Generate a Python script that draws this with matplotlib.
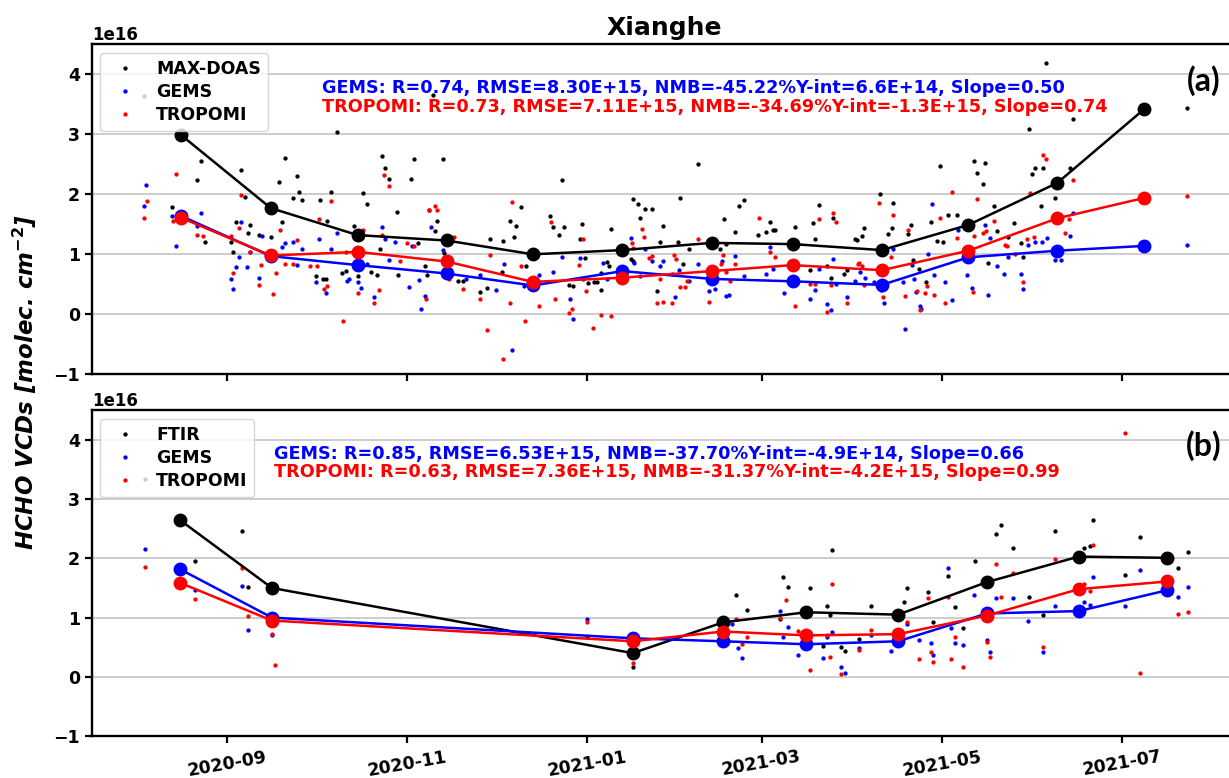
import numpy as np
import pandas as pd
import matplotlib
matplotlib.use("Agg")
import matplotlib.pyplot as plt
import matplotlib.dates as mdates

# ---------------- DATA (values in 1e16 molec/cm2; x as days from 2020-09-01) ----------------
maxdoas_days = [-27.9, -18.5, -10.2, -8.8, -7.4, 1.3, 2.2, 4.9, 6.2, 3.3, 7.3, 7.8, 10.9, 14.9, 17.8, 18.6, 19.8,
                22.5, 23.8, 24.6, 25.6, 30.3, 31.6, 32.7, 33.6, 34.0, 35.3, 37.2, 39.0, 40.3, 43.0, 44.3, 46.1,
                47.4, 48.8, 51.0, 51.9, 52.7, 53.7, 55.0, 57.7, 58.1, 62.4, 63.5, 64.8, 67.1, 67.7, 68.4, 69.7,
                70.4, 71.1, 73.1, 73.4, 78.2, 79.8, 85.8, 88.1, 89.1, 93.1, 93.4, 95.8, 97.1, 97.8, 99.6, 101.2,
                105.2, 109.5, 110.3, 112.3, 113.3, 114.2, 115.9, 117.3, 119.6, 120.2, 121.2, 122.4, 124.3, 125.2,
                126.6, 126.7, 128.6, 129.5, 129.9,
                136.8, 137.4, 137.6, 139.1, 139.9, 141.6, 143.8, 145.7, 146.6, 147.6, 152.6, 153.4, 154.3, 156.6,
                159.4, 167.0, 168.3, 169.0, 172.0, 173.2, 174.9, 179.9, 182.5, 183.9, 184.8, 185.6, 192.3, 197.4,
                198.3, 199.1, 200.6, 203.1, 204.4, 205.1, 208.9, 209.8, 212.6,
                213.2, 214.9, 215.8, 221.1, 223.9, 225.1, 225.6, 230.7, 231.6, 232.2, 234.4, 236.6, 238.4, 240.3,
                241.4, 242.3, 244.2, 247.1, 252.9, 253.8, 255.9, 256.7, 257.8, 259.8, 260.6, 264.5, 266.6, 268.8,
                269.6, 271.5, 272.4, 273.6, 275.5, 276.4, 277.3, 280.3, 285.4, 286.3, 325.1]
maxdoas_vals = [3.64, 1.78, 2.23, 2.55, 1.21, 1.20, 1.03, 2.40, 1.96, 1.54, 1.36, 1.49, 1.32, 1.28, 2.21, 1.54, 2.60,
                1.93, 2.31, 2.04, 1.91, 0.64, 1.91, 0.59, 0.59, 1.56, 2.04, 3.03, 0.69, 0.72, 1.47, 0.64, 2.02,
                1.84, 0.70, 0.66, 1.08, 2.64, 2.44, 2.26, 1.70, 0.66, 2.25, 2.58, 1.18, 0.80, 0.65, 1.73, 3.65,
                1.38, 1.55, 2.59, 1.02, 0.55, 0.55, 0.37, 0.44, 1.26, 0.71, 1.22, 1.56, 1.28, 1.47, 1.78, 0.80,
                0.55, 1.63, 1.45, 1.32, 2.23, 1.45, 0.48, 0.47, 1.26, 1.50, 0.93, 0.52, 0.54, 0.54,
                0.40, 0.69, 0.87, 0.81, 1.42,
                0.92, 1.92, 0.88, 1.83, 1.60, 1.75, 1.75, 0.39, 1.21, 1.47, 1.21, 1.94, 0.84, 1.09,
                2.51, 1.09, 1.58, 1.17, 1.37, 1.80, 1.90, 1.32, 1.37, 1.54, 1.40, 1.41, 1.45, 0.74,
                1.52, 1.25, 1.82, 0.81, 0.61, 1.60, 0.67, 0.74, 1.25,
                1.23, 1.30, 1.44, 2.00, 1.34, 1.43, 1.86, 1.34, 1.48, 0.90, 0.76, 0.53, 1.54, 1.22,
                2.47, 1.20, 1.65, 1.65, 2.55, 2.36, 2.17, 2.52, 0.86, 1.80, 1.38, 1.29, 1.52, 1.19,
                0.95, 3.08, 2.33, 2.43, 1.80, 2.43, 4.19, 1.94, 2.44, 3.25, 3.43]

gems_a_days = [-27.2, -27.9, -17.2, -18.5, -10.2, -8.8, 1.3, 2.2, 3.3, 4.2, 4.9, 6.9, 7.8, 10.9, 11.8, 18.6, 19.8,
               22.5, 23.8, 25.6, 30.3, 31.3, 33.6, 35.3, 37.2, 40.7, 41.3, 44.3, 45.3, 47.4, 49.7, 52.7, 53.7,
               55.0, 56.8, 61.7, 62.7, 65.1, 65.8, 67.1, 69.1, 73.1, 74.7, 80.9, 85.8, 91.2, 93.9, 96.6, 100.5,
               105.8, 110.5, 113.3, 116.2, 117.3, 119.6, 120.6, 127.3, 128.6,
               136.8, 137.9, 139.7, 141.6, 143.8, 146.6, 147.6, 150.6, 151.7, 152.9, 156.6, 159.6, 163.3, 165.3,
               167.5, 169.0, 170.1, 172.0, 174.9, 182.5, 183.9, 184.8, 188.6, 197.4, 199.1, 200.6, 203.1, 204.4,
               205.1, 206.2, 209.8, 212.6,
               214.4, 216.0, 218.9, 221.3, 222.5, 225.6, 228.8, 229.6, 231.8, 232.6, 233.3, 234.7, 234.9, 237.3,
               238.6, 239.4, 243.1, 245.4, 247.6, 250.5, 252.1, 256.7, 257.8, 258.3, 260.6, 262.9, 264.5, 268.7,
               269.6, 271.3, 273.6, 275.8, 277.5, 280.3, 282.4, 285.4, 286.3, 325.1]
gems_a_vals = [2.16, 1.80, 1.14, 1.64, 1.47, 1.68, 0.58, 0.42, 0.78, 0.96, 1.54, 0.79, 1.04, 0.61, 1.30, 1.12, 1.18,
               1.20, 0.82, 1.09, 0.54, 1.25, 0.35, 1.08, 1.36, 0.56, 0.59, 0.53, 0.44, 0.83, 0.28, 1.46, 1.26,
               0.91, 1.20, 0.46, 1.14, 0.57, 0.08, 0.31, 1.45, 1.07, 0.78, 0.59, 0.65, 0.40, 0.83, -0.60, 0.47,
               0.65, 0.70, 0.96, 0.26, -0.08, 0.94, 0.58, 0.86, 0.59,
               1.27, 0.85, 0.64, 1.09, 0.88, 0.80, 0.88, 0.67, 0.28, 0.73, 0.56, 0.84, 0.39, 0.42,
               0.88, 0.31, 0.32, 0.97, 0.64, 0.67, 1.12, 0.75, 0.35, 0.25, 0.40, 0.75, 0.17, 0.07,
               0.92, 0.50, 0.28, 0.56,
               0.70, 0.60, 0.53, 0.40, 0.19, 1.08, 0.53, -0.25, 0.82, 0.58, 0.37, 0.14, 0.08, 1.01,
               1.83, 0.66, 0.53, 0.24, 1.40, 0.65, 0.43, 1.49, 0.32, 1.27, 0.80, 0.67, 0.95, 0.67,
               0.42, 1.15, 1.21, 1.21, 1.27, 0.90, 0.91, 1.31, 1.69, 1.16]

tropomi_a_days = [-27.9, -27.0, -17.2, -18.3, -10.2, -8.2, 1.3, 2.2, 4.9, 4.2, 7.8, 10.9, 11.6, 15.6, 16.6, 17.9,
                  19.8, 22.5, 23.8, 28.3, 30.6, 31.3, 33.0, 34.0, 35.3, 39.4, 40.3, 44.3, 46.1, 49.7, 51.4, 52.7,
                  53.3, 55.0, 58.7, 61.1, 63.5, 67.5, 68.4, 70.4, 71.1, 75.1, 76.8, 80.1, 85.8, 88.1, 89.1, 93.4,
                  95.8, 96.7, 99.6, 100.9, 102.5, 105.8, 109.6, 111.2, 115.9, 117.0, 119.2, 120.6, 121.6, 124.1,
                  126.5, 129.9,
                  137.1, 137.4, 140.4, 141.3, 143.0, 143.8, 146.6, 147.6, 145.7, 150.6, 151.4, 152.1, 153.4, 155.1,
                  155.7, 159.6, 163.3, 167.2, 168.1, 169.0, 170.3, 172.0, 180.3, 183.9, 185.6, 192.3, 197.4, 199.1,
                  200.6, 204.4, 203.1, 205.1, 206.2, 209.8, 213.8,
                  214.1, 214.9, 215.5, 220.9, 222.0, 224.7, 225.6, 229.6, 230.4, 233.5, 234.7, 236.3, 237.1, 239.4,
                  241.4, 243.1, 245.4, 247.1, 252.5, 252.9, 253.8, 255.9, 257.0, 259.8, 263.4, 264.0, 266.8, 269.6,
                  270.8, 271.7, 273.2, 276.4, 277.3, 283.7, 285.2, 286.3, 325.1]
tropomi_a_vals = [1.61, 1.88, 2.34, 1.56, 1.32, 1.30, 1.30, 0.68, 1.98, 1.43, 1.03, 0.48, 0.82, 0.33, 0.69, 1.41,
                  0.84, 0.83, 1.24, 0.80, 0.80, 1.59, 0.42, 0.47, 1.88, -0.12, 1.04, 0.36, 1.41, 0.19, 0.40, 1.32,
                  2.32, 2.13, 0.89, 1.18, 1.14, 0.25, 1.73, 1.81, 1.73, 0.58, 1.29, 0.42, 0.26, -0.26, 0.98, -0.75,
                  0.19, 1.87, 0.80, -0.12, 0.55, 0.13, 1.54, 0.26, 0.02, 0.08, 0.82, 1.25, 0.39, -0.23,
                  -0.01, -0.03,
                  1.19, 1.10, 1.42, 1.28, 0.93, 0.97, 0.59, 0.21, 0.18, 0.18, 0.99, 0.92, 0.46, 0.46,
                  0.56, 1.25, 0.21, 0.84, 0.98, 0.70, 0.56, 0.84, 1.60, 1.03, 0.95, 0.13, 0.50, 0.50,
                  1.58, 0.49, 0.04, 1.69, 1.54, 0.18, 0.84,
                  0.86, 0.81, 0.49, 1.86, 0.28, 0.95, 1.65, 0.30, 1.40, 0.38, 0.07, 0.36, 0.47, 0.32,
                  1.60, 0.19, 2.03, 1.27, 0.37, 1.31, 1.92, 1.36, 1.38, 1.55, 1.16, 1.14, 1.01, 0.53,
                  1.25, 2.02, 1.29, 2.66, 2.58, 1.36, 1.58, 2.23, 1.97]

mean_a_days = [-15.5, 14.9, 44.3, 74.4, 103.6, 133.9, 164.1, 191.5, 221.7, 251.0, 281.1, 310.5]
maxdoas_mean = [2.99, 1.77, 1.32, 1.23, 1.00, 1.07, 1.19, 1.17, 1.07, 1.49, 2.19, 3.42]
gems_a_mean = [1.64, 0.97, 0.82, 0.68, 0.48, 0.72, 0.59, 0.55, 0.49, 0.95, 1.06, 1.14]
tropomi_a_mean = [1.61, 0.98, 1.04, 0.88, 0.54, 0.61, 0.72, 0.82, 0.735, 1.06, 1.60, 1.94]

ftir_days = [-27.5, -10.8, 5.1, 7.3, 121.9, 137.4, 172.2, 176.1, 187.4, 188.1, 190.1, 197.4, 201.8, 203.2, 204.1,
             204.9, 207.9, 209.2, 214.1, 218.1, 229.2, 230.2, 237.2, 239.0, 244.2, 246.3, 249.3, 253.3, 260.4,
             262.0, 266.2, 271.6, 276.3, 280.4, 290.0, 292.0, 293.0, 304.1, 309.1, 321.8, 325.4]
ftir_vals = [3.34, 1.96, 2.46, 1.51, 0.67, 0.16, 1.39, 1.12, 0.98, 1.68, 1.51, 1.50, 0.52, 1.19, 1.05,
             2.14, 0.51, 0.43, 0.64, 1.19, 1.26, 1.50, 1.43, 0.92, 1.70, 1.18, 0.83, 1.96, 2.41,
             2.56, 2.18, 1.34, 1.05, 2.46, 2.18, 2.21, 2.65, 1.72, 2.36, 1.83, 2.10]

gems_b_days = [-27.5, -10.8, 5.1, 7.3, 15.3, 121.9, 171.1, 173.1, 174.5, 187.4, 188.1, 190.1, 193.2, 201.8, 203.2,
               204.9, 207.9, 209.2, 214.1, 218.1, 224.8, 230.2, 234.3, 238.2, 239.0, 244.2, 245.0, 246.3, 249.3,
               253.0, 257.3, 258.2, 260.4, 266.2, 271.3, 276.3, 280.4, 290.0, 292.0, 293.0, 304.1, 309.1, 321.8,
               325.4]
gems_b_vals = [2.16, 1.47, 1.54, 0.79, 0.71, 0.97, 0.89, 0.48, 0.31, 1.11, 0.67, 0.84, 0.36, 0.31, 0.67,
               0.75, 0.17, 0.06, 0.48, 0.71, 0.44, 0.89, 0.62, 0.57, 0.36, 1.83, 0.83, 0.57, 0.53,
               1.39, 0.62, 0.42, 1.33, 1.33, 0.94, 0.42, 1.20, 1.26, 1.21, 1.68, 1.20, 1.81, 1.34,
               1.51]

tropomi_b_days = [-27.5, -10.8, 5.1, 7.3, 15.3, 16.2, 121.9, 137.4, 172.2, 174.5, 176.1, 187.4, 189.4, 193.2,
                  197.4, 203.2, 204.1, 204.9, 207.9, 214.1, 218.1, 230.2, 234.3, 237.2, 238.2, 239.0, 244.2,
                  245.0, 246.3, 249.3, 257.3, 258.2, 260.4, 262.0, 266.2, 276.3, 280.4, 290.0, 292.0, 293.0,
                  304.1, 309.1, 321.8, 325.4]
tropomi_b_vals = [1.86, 1.32, 1.84, 1.03, 0.72, 0.20, 0.92, 0.23, 0.97, 0.55, 0.67, 0.99, 1.30, 0.78,
                  0.12, 0.71, 0.34, 1.57, 0.04, 0.46, 0.79, 0.93, 0.30, 1.33, 0.42, 0.25, 1.34,
                  0.30, 0.67, 0.17, 0.58, 0.34, 1.91, 1.34, 1.75, 0.51, 1.99, 1.56, 1.45, 2.22,
                  4.12, 0.06, 1.06, 1.10]

mean_b_days = [-15.9, 15.3, 137.4, 168.0, 196.1, 227.2, 257.3, 288.3, 318.1]
ftir_mean = [2.65, 1.50, 0.40, 0.92, 1.09, 1.05, 1.60, 2.03, 2.01]
gems_b_mean = [1.82, 1.00, 0.65, 0.60, 0.55, 0.60, 1.07, 1.11, 1.46]
tropomi_b_mean = [1.59, 0.95, 0.60, 0.765, 0.70, 0.72, 1.035, 1.48, 1.61]

stats_a = ["GEMS: R=0.74, RMSE=8.30E+15, NMB=-45.22%Y-int=6.6E+14, Slope=0.50",
           "TROPOMI: R=0.73, RMSE=7.11E+15, NMB=-34.69%Y-int=-1.3E+15, Slope=0.74"]
stats_b = ["GEMS: R=0.85, RMSE=6.53E+15, NMB=-37.70%Y-int=-4.9E+14, Slope=0.66",
           "TROPOMI: R=0.63, RMSE=7.36E+15, NMB=-31.37%Y-int=-4.2E+15, Slope=0.99"]

SCALE = 1e16
BASE = pd.Timestamp("2020-09-01")


def to_dates(days):
    return BASE + pd.to_timedelta(np.asarray(days, dtype=float), unit="D")


def to_vals(v):
    return np.asarray(v, dtype=float) * SCALE


plt.rcParams["font.family"] = ["DejaVu Sans"]
plt.rcParams["font.weight"] = "bold"

W, H = 1229, 778
fig = plt.figure(figsize=(W / 100, H / 100), dpi=100)

left = 91.7 / W
width = (1237 - 91.7) / W
ax1 = fig.add_axes([left, 1 - 374.3 / H, width, (374.3 - 44.3) / H])
ax2 = fig.add_axes([left, 1 - 736 / H, width, (736 - 410.4) / H], sharex=ax1)

xmin = BASE - pd.Timedelta(days=45.7)
xmax = BASE + pd.Timedelta(days=341.9)


def draw_panel(ax, ref_name, ref_d, ref_v, g_d, g_v, t_d, t_v, m_d, ref_m, g_m, t_m, stats, tag, tag_y):
    ms_small = 3.1
    h1, = ax.plot(to_dates(ref_d), to_vals(ref_v), "o", color="black", ms=ms_small, mew=0, zorder=2, label=ref_name)
    h2, = ax.plot(to_dates(g_d), to_vals(g_v), "o", color="blue", ms=ms_small, mew=0, zorder=2, label="GEMS")
    h3, = ax.plot(to_dates(t_d), to_vals(t_v), "o", color="red", ms=ms_small, mew=0, zorder=2, label="TROPOMI")
    md = to_dates(m_d)
    ax.plot(md, to_vals(ref_m), "-o", color="black", lw=1.8, ms=9, zorder=3)
    ax.plot(md, to_vals(g_m), "-o", color="blue", lw=1.8, ms=9, zorder=3)
    ax.plot(md, to_vals(t_m), "-o", color="red", lw=1.8, ms=9, zorder=3)

    ax.set_ylim(-1 * SCALE, 4.5 * SCALE)
    ax.set_yticks(np.arange(-1, 5) * SCALE)
    ax.set_xlim(xmin, xmax)
    ax.grid(axis="y", color="#c4c4c4", lw=1.2)
    ax.grid(axis="x", visible=False)
    ax.set_axisbelow(True)
    for s in ax.spines.values():
        s.set_linewidth(1.7)
    ax.tick_params(axis="both", labelsize=12.5, width=1.6, length=5)
    for lab in ax.get_yticklabels():
        lab.set_fontweight("bold")
    ot = ax.yaxis.get_offset_text()
    ot.set_fontweight("bold")
    ot.set_fontsize(12)

    leg = ax.legend(handles=[h1, h2, h3], loc="upper left", fontsize=12.5, labelspacing=0.3,
                    markerscale=1.0, handletextpad=0.8, borderaxespad=0.5)
    for t in leg.get_texts():
        t.set_fontweight("bold")
    leg.set_zorder(5)

    ax.text(stats[0], stats[1], stats[2], transform=ax.transAxes, color="blue", fontsize=12.7,
            fontweight="bold", ha="left", va="center")
    ax.text(stats[0], stats[3], stats[4], transform=ax.transAxes, color="red", fontsize=12.7,
            fontweight="bold", ha="left", va="center")
    fig.text(1204 / W, 1 - tag_y / H, tag, fontsize=23, fontweight="bold", family=["Lato", "DejaVu Sans"],
             ha="center", va="center")


draw_panel(ax1, "MAX-DOAS", maxdoas_days, maxdoas_vals, gems_a_days, gems_a_vals, tropomi_a_days, tropomi_a_vals,
           mean_a_days, maxdoas_mean, gems_a_mean, tropomi_a_mean,
           (0.201, 0.8675, stats_a[0], 0.810, stats_a[1]), "(a)", 80.5)
draw_panel(ax2, "FTIR", ftir_days, ftir_vals, gems_b_days, gems_b_vals, tropomi_b_days, tropomi_b_vals,
           mean_b_days, ftir_mean, gems_b_mean, tropomi_b_mean,
           (0.159, 0.867, stats_b[0], 0.811, stats_b[1]), "(b)", 446)

ax2.xaxis.set_major_locator(mdates.MonthLocator(bymonth=[1, 3, 5, 7, 9, 11]))
ax2.xaxis.set_major_formatter(mdates.DateFormatter("%Y-%m"))
for lab in ax2.get_xticklabels():
    lab.set_rotation(10)
    lab.set_ha("center")
    lab.set_fontweight("bold")
plt.setp(ax1.get_xticklabels(), visible=False)

ax1.set_title("Xianghe", fontsize=18, fontweight="bold", pad=7)

fig.text(25 / W, 1 - 381.5 / H, "HCHO VCDs [molec. cm$^{-2}$]", rotation=90, fontsize=16.5,
         fontweight="bold", style="italic", ha="center", va="center")

fig.savefig("out.png", dpi=100)
